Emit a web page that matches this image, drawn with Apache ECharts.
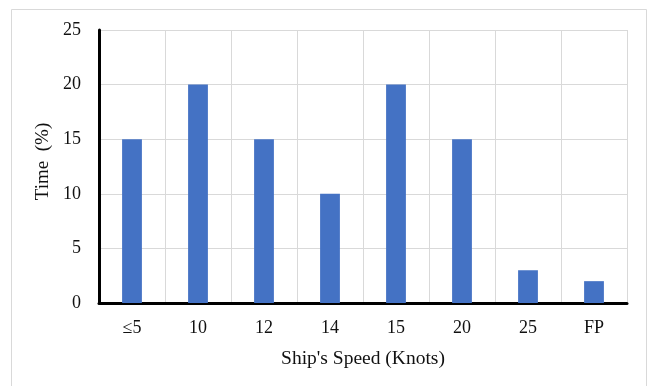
<!DOCTYPE html>
<html>
<head>
<meta charset="utf-8">
<script src="https://cdn.jsdelivr.net/npm/echarts@6/dist/echarts.min.js"></script>
<style>
  html, body { margin: 0; padding: 0; background: #fff; }
  #chart { width: 653px; height: 386px; }
</style>
</head>
<body>
<div id="chart"></div>
<script>
// Share of time spent at each ship speed
const speedCategories = ['≤5', '10', '12', '14', '15', '20', '25', 'FP'];
const timeShare = [15, 20, 15, 10, 20, 15, 3, 2];
const yTicks = { min: 0, max: 25, interval: 5 };

const serif = '"Liberation Serif", "DejaVu Serif", serif';
const chart = echarts.init(document.getElementById('chart'), null, { renderer: 'canvas' });

chart.setOption({
  animation: false,
  backgroundColor: '#fff',
  graphic: [{
    type: 'rect',
    shape: { x: 11.5, y: 9.5, width: 635, height: 400 },
    style: { fill: 'none', stroke: '#d9d9d9', lineWidth: 1 },
    silent: true,
    z: -1
  }],
  grid: { left: 99, right: 26, top: 30, bottom: 83, containLabel: false },
  xAxis: {
    type: 'category',
    data: speedCategories,
    boundaryGap: true,
    axisLine: { lineStyle: { color: '#000', width: 3 } },
    axisTick: { show: false },
    axisLabel: { color: '#111', fontFamily: serif, fontSize: 18, margin: 16 },
    splitLine: { show: true, showMinLine: true, showMaxLine: true, lineStyle: { color: '#d9d9d9', width: 1 } },
    name: "Ship's Speed (Knots)",
    nameLocation: 'middle',
    nameGap: 46,
    nameTextStyle: { color: '#111', fontFamily: serif, fontSize: 19.5 }
  },
  yAxis: {
    type: 'value',
    min: yTicks.min,
    max: yTicks.max,
    interval: yTicks.interval,
    axisLine: { show: true, lineStyle: { color: '#000', width: 3 } },
    axisTick: { show: false },
    axisLabel: { color: '#111', fontFamily: serif, fontSize: 18, margin: 18 },
    splitLine: { show: true, lineStyle: { color: '#d9d9d9', width: 1 } },
    name: 'Time  (%)',
    nameLocation: 'middle',
    nameGap: 44,
    nameTextStyle: { color: '#111', fontFamily: serif, fontSize: 19, padding: [0, 0, 0, 10] }
  },
  series: [{
    type: 'bar',
    data: timeShare,
    barWidth: '30%',
    itemStyle: { color: '#4472c4' }
  }]
});
</script>
</body>
</html>
